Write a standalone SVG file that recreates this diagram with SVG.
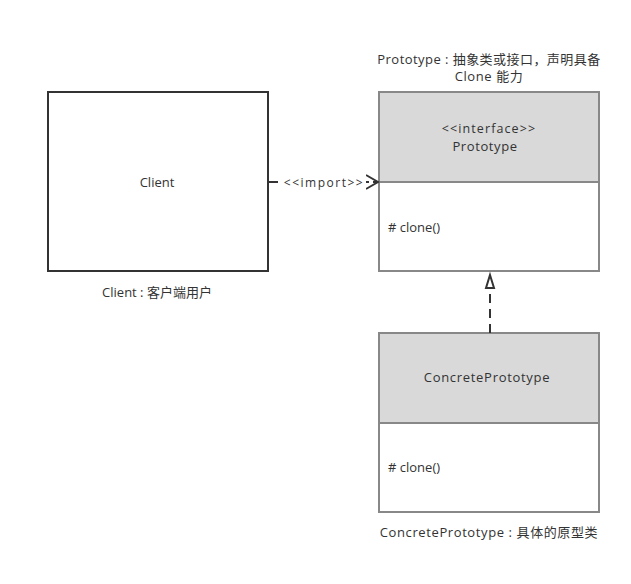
<svg xmlns="http://www.w3.org/2000/svg" width="631" height="584" viewBox="0 0 631 584">
<defs>
<style>
text{font-family:"Open Sans","Noto Sans CJK SC",sans-serif;font-size:13px;fill:#333}
.box{fill:#fff;stroke:#888;stroke-width:2}
.hdr{fill:#d9d9d9;stroke:#888;stroke-width:2}
.c{text-anchor:middle}
.w{letter-spacing:0.6px}
</style>
</defs>
<rect width="631" height="584" fill="#fff"/>
<g id="client">
<rect x="48" y="92" width="220" height="179" fill="#fff" stroke="#333" stroke-width="2"/>
<text x="157" y="187" class="c">Client</text>
<text x="157" y="297" class="c">Client : 客户端用户</text>
</g>
<g id="prototype">
<text x="489" y="64" class="c" letter-spacing="0.45">Prototype : 抽象类或接口，声明具备</text>
<text x="489" y="81" class="c w">Clone 能力</text>
<rect x="379" y="92" width="220" height="179" class="box"/>
<rect x="379" y="92" width="220" height="90" class="hdr"/>
<text x="489" y="133" class="c" style="font-size:12.5px" letter-spacing="1.1">&lt;&lt;interface&gt;&gt;</text>
<text x="485" y="151" class="c w">Prototype</text>
<text x="388" y="232">#  clone()</text>
</g>
<g id="concrete">
<rect x="379" y="333" width="220" height="179" class="box"/>
<rect x="379" y="333" width="220" height="90" class="hdr"/>
<text x="487" y="382" class="c" letter-spacing="0.7">ConcretePrototype</text>
<text x="388" y="472">#  clone()</text>
<text x="489" y="537" class="c w">ConcretePrototype : 具体的原型类</text>
</g>
<g id="connectors">
<line x1="269" y1="182" x2="378" y2="182" stroke="#333" stroke-width="2" stroke-dasharray="9,4"/>
<path d="M366,175 L378,182 L366,189" fill="none" stroke="#333" stroke-width="2"/>
<rect x="280" y="174" width="86" height="16" fill="#fff"/>
<text x="324" y="187" class="c" style="font-size:12px" letter-spacing="1.5">&lt;&lt;import&gt;&gt;</text>
<line x1="490" y1="333" x2="490" y2="288" stroke="#333" stroke-width="2" stroke-dasharray="9,6"/>
<path d="M490,275 L494,288 L486,288 Z" fill="#fff" stroke="#333" stroke-width="2"/>
</g>
</svg>
